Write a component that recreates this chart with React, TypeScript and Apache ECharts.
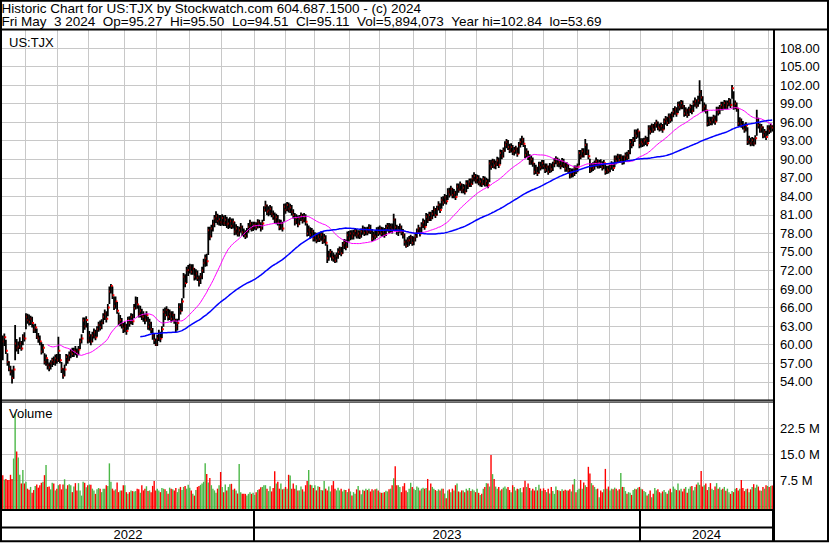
import React, { useEffect, useRef } from "react";
import * as echarts from "echarts";

// ---- Data (daily bars, May 10 2022 .. May 3 2024) ----
const closes = [
  60.5, 61.2, 59.0, 57.2, 56.1, 55.6, 54.6, 56.0, 60.2, 59.5,
  59.7, 60.2, 59.4, 61.3, 61.0, 64.5, 64.0, 63.7, 64.2, 63.5,
  62.4, 62.8, 61.3, 61.0, 60.5, 58.9, 59.5, 57.2, 57.8, 56.7,
  56.3, 57.0, 57.5, 57.2, 57.8, 57.5, 59.0, 57.5, 56.1, 55.0,
  56.0, 58.0, 57.5, 58.3, 58.8, 58.5, 59.0, 58.9, 58.6, 59.2,
  60.5, 61.0, 63.9, 63.0, 64.0, 60.7, 61.5, 60.5, 61.5, 62.0,
  61.2, 62.5, 63.2, 62.8, 63.5, 64.5, 65.0, 64.2, 66.0, 68.6,
  69.5, 68.0, 66.2, 67.0, 65.5, 63.7, 64.0, 63.2, 62.6, 63.0,
  62.2, 64.0, 63.5, 64.5, 63.8, 65.9, 67.0, 66.5, 65.0, 65.5,
  64.6, 64.5, 64.0, 64.8, 62.9, 63.5, 62.5, 61.5, 60.7, 60.0,
  61.0, 61.8, 61.0, 62.5, 65.3, 64.8, 65.6, 64.5, 65.0, 64.2,
  64.8, 64.0, 62.8, 63.5, 66.1, 65.5, 67.0, 71.0, 70.0, 72.0,
  72.1, 72.5, 71.8, 72.3, 71.0, 71.5, 70.8, 70.2, 71.0, 72.0,
  73.2, 74.0, 73.5, 78.5, 77.5, 78.8, 79.5, 80.4, 80.8, 80.0,
  80.3, 79.8, 80.5, 79.7, 80.2, 79.5, 79.6, 80.0, 79.2, 79.8,
  78.3, 78.8, 78.0, 78.5, 79.0, 78.2, 78.0, 77.6, 78.4, 79.1,
  79.6, 78.8, 79.3, 79.4, 79.0, 79.8, 79.4, 78.9, 79.6, 81.8,
  82.5, 81.5, 81.7, 82.0, 81.2, 80.8, 80.2, 80.6, 79.8, 79.1,
  79.6, 78.8, 82.3, 81.8, 82.6, 82.0, 82.2, 81.5, 81.0, 79.9,
  80.5, 79.5, 80.4, 80.9, 80.1, 80.7, 79.9, 78.0, 78.6, 77.8,
  78.3, 77.2, 77.6, 76.9, 77.5, 77.1, 77.8, 76.8, 77.3, 76.5,
  74.0, 74.6, 75.0, 74.2, 74.0, 73.6, 74.4, 75.0, 75.4, 74.8,
  76.1, 76.5, 75.8, 77.7, 77.2, 78.0, 77.5, 78.0, 78.4, 77.7,
  78.0, 77.6, 78.3, 78.7, 78.1, 78.5, 78.2, 78.9, 78.4, 77.2,
  77.7, 77.5, 78.5, 78.1, 78.8, 78.0, 78.4, 77.8, 78.8, 79.2,
  78.5, 79.0, 78.6, 80.2, 79.0, 78.4, 78.5, 79.0, 78.2, 77.8,
  76.6, 76.0, 76.8, 76.9, 77.3, 76.5, 77.0, 77.5, 78.3, 78.8,
  78.0, 79.3, 79.8, 79.1, 80.7, 80.2, 81.0, 80.5, 81.2, 81.8,
  81.0, 82.0, 82.6, 81.8, 83.4, 83.0, 83.8, 83.2, 84.8, 84.3,
  85.2, 84.2, 84.6, 83.9, 85.6, 85.1, 85.9, 85.0, 85.4, 84.8,
  86.1, 85.7, 86.4, 86.0, 86.9, 87.3, 86.6, 87.0, 86.3, 86.4,
  86.0, 86.8, 86.1, 86.5, 85.8, 89.3, 88.8, 89.6, 89.0, 89.3,
  89.8, 89.1, 91.0, 90.5, 91.4, 92.3, 92.8, 92.0, 91.5, 92.0,
  91.2, 91.4, 91.7, 90.9, 92.3, 92.8, 93.2, 92.5, 90.7, 91.2,
  90.4, 89.6, 90.0, 89.3, 88.0, 88.5, 87.8, 89.1, 88.7, 89.4,
  88.9, 88.3, 88.8, 88.0, 88.8, 88.4, 89.1, 89.6, 90.0, 89.3,
  89.5, 88.9, 89.7, 89.1, 88.5, 88.9, 88.2, 87.4, 87.9, 87.6,
  88.5, 88.1, 88.8, 91.0, 90.5, 91.3, 90.8, 92.3, 91.2, 90.5,
  88.3, 88.8, 88.6, 89.3, 89.7, 89.0, 89.4, 89.1, 88.7, 89.4,
  88.0, 88.4, 88.2, 88.8, 89.2, 88.6, 90.1, 89.7, 90.4, 89.9,
  90.3, 89.6, 90.1, 90.6, 90.3, 91.0, 92.8, 92.3, 93.1, 94.2,
  93.8, 94.5, 92.3, 92.8, 92.5, 93.0, 93.2, 92.6, 95.0, 94.5,
  95.3, 94.8, 95.5, 95.9, 95.2, 95.0, 95.4, 94.8, 96.1, 96.5,
  95.9, 96.9, 96.4, 97.2, 97.7, 98.1, 97.4, 98.8, 98.4, 99.1,
  98.6, 97.4, 97.9, 97.2, 98.0, 98.4, 97.8, 99.0, 99.4, 98.7,
  99.5, 100.9, 100.0, 98.2, 98.6, 97.9, 95.8, 96.3, 96.0, 96.4,
  96.7, 96.1, 98.0, 97.6, 98.3, 98.8, 98.4, 99.1, 98.6, 99.0,
  99.4, 98.8, 101.5, 98.5, 99.0, 98.2, 95.8, 96.3, 95.6, 95.3,
  94.8, 95.5, 92.8, 93.3, 92.6, 93.1, 92.6, 93.4, 96.3, 95.5,
  94.8, 95.2, 93.9, 94.4, 93.6, 95.0, 94.6, 95.3, 95.11,
];

// distance from close to high / to low, in tenths of a dollar
const upWick = [
  10, 6, 18, 14, 12, 10, 14, 6, 30, 14, 8, 10, 12, 4, 10, 6, 10, 12, 5, 10,
  9, 6, 13, 9, 10, 15, 6, 14, 6, 10, 8, 5, 4, 9, 6, 10, 23, 10, 11, 12,
  8, 5, 9, 6, 5, 10, 5, 9, 8, 6, 5, 7, 5, 14, 6, 28, 7, 12, 6, 6,
  12, 5, 5, 11, 6, 6, 7, 12, 6, 8, 3, 14, 16, 8, 14, 15, 8, 11, 9, 7,
  12, 5, 11, 6, 12, 7, 8, 12, 14, 8, 12, 9, 10, 6, 16, 7, 12, 12, 11, 10,
  6, 6, 11, 5, 5, 12, 6, 13, 7, 12, 6, 10, 14, 7, 6, 12, 5, 6, 14, 6,
  8, 6, 12, 7, 14, 7, 12, 10, 6, 6, 7, 6, 12, 6, 16, 6, 7, 6, 8, 12,
  7, 12, 6, 12, 8, 12, 8, 6, 12, 6, 16, 7, 12, 6, 7, 11, 8, 9, 5, 6,
  6, 11, 6, 5, 8, 5, 8, 9, 6, 6, 8, 12, 7, 6, 12, 9, 12, 6, 12, 12,
  6, 11, 5, 11, 5, 10, 6, 11, 9, 14, 6, 14, 6, 5, 11, 6, 12, 16, 7, 12,
  6, 14, 6, 12, 6, 10, 5, 14, 6, 12, 22, 6, 5, 10, 9, 10, 5, 6, 5, 10,
  5, 6, 12, 6, 12, 5, 10, 6, 5, 10, 5, 9, 5, 6, 10, 5, 9, 6, 10, 15,
  6, 9, 5, 10, 5, 11, 6, 11, 6, 5, 12, 6, 10, 10, 14, 10, 7, 6, 11, 9,
  14, 10, 6, 7, 5, 11, 5, 6, 5, 6, 10, 5, 6, 11, 6, 10, 5, 10, 6, 6,
  11, 5, 6, 11, 5, 10, 6, 10, 5, 11, 5, 12, 6, 10, 5, 10, 5, 11, 6, 11,
  5, 9, 5, 9, 6, 6, 10, 5, 11, 6, 9, 5, 11, 5, 10, 6, 11, 5, 10, 5,
  6, 12, 6, 10, 5, 6, 5, 11, 10, 6, 11, 6, 5, 10, 5, 6, 6, 10, 16, 6,
  10, 12, 6, 10, 14, 6, 10, 5, 9, 5, 10, 10, 5, 10, 6, 9, 5, 6, 5, 10,
  6, 10, 5, 10, 10, 6, 10, 12, 6, 9, 5, 9, 5, 5, 10, 5, 10, 10, 14, 11,
  18, 6, 9, 5, 6, 10, 5, 9, 10, 5, 14, 5, 8, 5, 5, 9, 5, 9, 5, 9,
  5, 10, 5, 5, 9, 5, 5, 10, 5, 6, 10, 5, 22, 6, 9, 5, 6, 10, 5, 10,
  5, 9, 5, 5, 9, 8, 5, 9, 5, 5, 10, 5, 10, 5, 6, 5, 10, 5, 10, 5,
  9, 14, 5, 10, 5, 5, 10, 5, 6, 10, 8, 19, 12, 20, 6, 10, 22, 6, 9, 5,
  5, 10, 5, 9, 5, 5, 9, 5, 9, 5, 5, 10, 5, 25, 5, 10, 24, 5, 10, 9,
  10, 5, 24, 5, 9, 5, 9, 5, 17, 12, 10, 5, 14, 5, 10, 5, 9, 5, 4,
];

const downWick = [
  30, 14, 5, 6, 4, 6, 9, 15, 27, 6, 12, 9, 4, 14, 5, 20, 6, 6, 10, 7,
  5, 9, 4, 7, 6, 5, 9, 4, 12, 7, 6, 10, 11, 5, 12, 6, 18, 5, 7, 5,
  11, 14, 6, 9, 10, 5, 10, 6, 7, 9, 12, 8, 20, 6, 12, 5, 12, 6, 11, 10,
  5, 12, 11, 5, 10, 12, 10, 6, 14, 20, 12, 6, 6, 12, 5, 5, 10, 6, 7, 10,
  6, 16, 6, 12, 6, 16, 13, 7, 6, 11, 6, 8, 7, 11, 5, 12, 6, 7, 6, 2,
  12, 12, 6, 14, 24, 8, 10, 6, 10, 6, 10, 6, 8, 12, 22, 6, 16, 35, 7, 20,
  10, 10, 5, 10, 6, 10, 5, 8, 12, 14, 16, 14, 8, 40, 6, 14, 12, 14, 11, 6,
  10, 6, 12, 5, 10, 6, 9, 11, 5, 10, 6, 10, 5, 10, 9, 6, 6, 5, 11, 10,
  10, 5, 9, 8, 5, 10, 5, 6, 10, 18, 10, 5, 9, 10, 6, 6, 6, 11, 5, 6,
  10, 5, 24, 6, 10, 6, 9, 6, 6, 6, 10, 5, 10, 9, 5, 9, 6, 5, 10, 6,
  9, 5, 9, 5, 9, 5, 10, 5, 9, 5, 8, 10, 9, 6, 6, 4, 11, 11, 9, 5,
  14, 10, 5, 20, 5, 11, 5, 10, 9, 5, 8, 5, 10, 9, 5, 8, 5, 9, 5, 5,
  9, 5, 12, 5, 10, 5, 9, 5, 12, 9, 5, 9, 6, 18, 5, 6, 9, 9, 5, 6,
  6, 3, 10, 9, 10, 5, 9, 8, 10, 9, 5, 12, 9, 5, 15, 5, 10, 5, 9, 10,
  5, 11, 9, 5, 14, 5, 10, 5, 14, 5, 11, 5, 9, 5, 15, 5, 10, 5, 9, 5,
  14, 5, 9, 5, 10, 9, 5, 9, 5, 8, 5, 10, 5, 9, 5, 30, 5, 10, 5, 9,
  9, 5, 18, 5, 11, 11, 10, 5, 5, 9, 5, 8, 8, 5, 14, 9, 9, 5, 5, 9,
  5, 5, 9, 5, 5, 9, 5, 14, 5, 10, 5, 5, 9, 5, 10, 5, 10, 9, 8, 5,
  8, 5, 10, 5, 5, 9, 5, 5, 9, 5, 12, 5, 9, 20, 5, 10, 5, 16, 5, 5,
  5, 9, 5, 10, 9, 5, 9, 5, 5, 10, 5, 8, 5, 9, 9, 5, 14, 5, 10, 5,
  9, 5, 9, 9, 5, 10, 20, 5, 10, 14, 5, 10, 5, 9, 5, 9, 9, 5, 22, 5,
  10, 5, 9, 8, 5, 5, 8, 5, 13, 9, 5, 12, 5, 11, 9, 9, 5, 13, 5, 10,
  5, 5, 9, 5, 10, 9, 5, 13, 9, 5, 10, 20, 6, 5, 9, 5, 5, 9, 5, 9,
  9, 5, 19, 5, 10, 9, 5, 10, 5, 9, 8, 5, 17, 5, 9, 5, 5, 9, 5, 5,
  5, 10, 5, 9, 5, 9, 5, 10, 25, 5, 5, 9, 5, 9, 5, 12, 5, 10, 6,
];

// daily volume, millions of shares
const volumes = [
  8.9, 7.6, 7.8, 7.5, 7.5, 9.0, 7.8, 13.7, 26.7, 15.7,
  14.0, 9.0, 6.5, 10.4, 6.5, 7.0, 5.0, 4.7, 5.5, 3.8,
  4.6, 5.8, 6.2, 5.3, 6.0, 6.7, 7.0, 8.9, 11.8, 5.5,
  5.6, 4.8, 6.7, 6.5, 4.5, 5.0, 6.0, 6.3, 4.8, 6.2,
  7.7, 5.0, 6.0, 6.3, 6.0, 4.0, 5.6, 6.6, 4.5, 6.6,
  4.5, 3.0, 7.0, 6.7, 5.4, 6.0, 6.2, 6.1, 5.0, 4.5,
  3.5, 4.8, 5.2, 5.0, 4.0, 5.0, 5.0, 6.0, 5.8, 12.3,
  7.0, 5.0, 4.5, 4.8, 6.8, 4.0, 4.5, 4.5, 6.0, 6.0,
  4.0, 3.5, 4.0, 4.5, 4.3, 4.2, 4.3, 5.0, 4.8, 3.8,
  6.0, 4.5, 5.0, 5.7, 4.3, 4.5, 4.0, 5.8, 7.2, 4.5,
  5.0, 4.5, 4.0, 5.2, 5.0, 4.8, 4.3, 3.5, 5.3, 5.0,
  4.8, 4.5, 5.2, 4.0, 5.0, 5.5, 4.6, 5.5, 5.8, 5.0,
  6.1, 5.3, 4.5, 3.5, 3.0, 4.6, 5.5, 5.8, 6.1, 6.5,
  7.0, 12.3, 9.2, 6.8, 8.1, 6.0, 5.0, 4.5, 3.8, 5.0,
  6.0, 9.8, 5.5, 4.0, 6.2, 4.5, 5.5, 6.3, 6.4, 4.7,
  5.0, 4.5, 3.6, 12.1, 4.0, 3.5, 3.5, 3.5, 3.0, 3.5,
  4.0, 3.5, 3.8, 3.2, 4.0, 4.6, 4.8, 5.4, 5.5, 6.0,
  6.0, 5.0, 4.3, 5.7, 4.2, 5.2, 10.0, 6.5, 7.0, 5.0,
  6.5, 4.8, 5.0, 5.5, 5.0, 9.0, 8.8, 5.0, 6.5, 5.0,
  6.0, 4.5, 4.5, 5.6, 4.8, 4.2, 6.0, 7.2, 10.4, 6.1,
  6.0, 5.2, 6.0, 4.5, 5.7, 5.5, 4.6, 4.5, 7.2, 5.0,
  4.5, 5.6, 4.2, 6.0, 7.2, 5.0, 4.5, 5.3, 4.5, 5.0,
  4.2, 4.7, 4.6, 4.0, 5.0, 4.2, 3.0, 4.0, 3.5, 4.8,
  5.8, 4.5, 3.4, 4.7, 4.4, 5.0, 4.6, 5.0, 4.2, 4.8,
  4.5, 4.8, 5.0, 4.5, 4.0, 3.8, 3.8, 4.0, 4.4, 4.2,
  4.8, 5.0, 6.0, 8.0, 11.5, 6.0, 6.0, 5.5, 4.0, 5.7,
  6.6, 4.5, 4.0, 5.0, 6.7, 5.5, 5.0, 4.6, 5.6, 5.3,
  4.5, 5.0, 5.3, 5.0, 5.2, 7.8, 4.5, 6.5, 5.5, 5.0,
  4.6, 4.3, 4.8, 4.5, 5.0, 5.0, 3.6, 2.2, 4.5, 4.8,
  4.0, 5.0, 4.5, 6.0, 6.5, 4.2, 4.0, 4.5, 4.5, 4.0,
  5.0, 4.5, 5.2, 4.3, 4.8, 4.5, 4.0, 5.0, 3.8, 3.2,
  3.5, 5.0, 5.5, 6.6, 6.5, 5.6, 14.7, 9.2, 7.8, 5.6,
  5.0, 5.5, 4.5, 4.8, 5.3, 5.6, 5.0, 5.5, 4.6, 4.0,
  6.0, 5.5, 4.5, 5.0, 4.8, 5.2, 4.0, 5.4, 7.3, 5.5,
  6.5, 5.2, 4.5, 5.0, 4.5, 5.5, 4.5, 6.1, 5.0, 4.4,
  5.1, 4.6, 4.0, 5.0, 3.6, 5.5, 4.3, 3.5, 5.6, 4.6,
  4.5, 4.3, 4.8, 4.4, 4.7, 4.5, 4.5, 4.8, 4.2, 6.2,
  7.8, 4.0, 4.6, 5.0, 7.5, 5.0, 6.8, 6.0, 5.5, 11.3,
  9.4, 6.6, 6.0, 5.5, 4.8, 5.0, 2.5, 4.5, 4.0, 4.8,
  10.7, 5.0, 5.6, 4.5, 5.0, 4.8, 5.3, 5.0, 4.5, 4.8,
  9.5, 5.5, 5.5, 4.3, 3.5, 4.0, 3.8, 3.2, 4.6, 5.0,
  4.8, 5.3, 5.5, 5.0, 4.8, 4.3, 4.0, 3.0, 3.5, 4.5,
  2.5, 3.5, 5.2, 4.5, 4.8, 4.0, 3.7, 4.2, 4.6, 4.0,
  3.5, 4.5, 5.0, 4.0, 5.6, 5.0, 4.6, 6.5, 4.5, 5.0,
  4.2, 5.0, 5.5, 3.8, 5.0, 5.6, 5.8, 4.5, 5.5, 6.2,
  6.8, 6.1, 10.1, 5.6, 6.0, 6.5, 4.6, 5.5, 6.6, 5.0,
  4.6, 5.6, 6.6, 5.0, 5.4, 4.7, 5.0, 5.5, 4.4, 5.0,
  4.0, 3.5, 4.3, 4.0, 5.0, 5.2, 4.5, 5.0, 7.5, 5.2,
  4.3, 4.8, 5.0, 4.0, 4.8, 5.5, 6.3, 5.3, 6.1, 5.6,
  4.5, 4.4, 5.5, 5.0, 6.0, 5.8, 5.5, 5.8, 5.89,
];

const priceTicks = { min: 51, max: 111, step: 3 };
const volumeTicks = { min: 0, max: 30, step: 7.5 };
const maPeriods = [30, 90];
const maColors = ["#ff00ff", "#0000ff"];

const holidays = [
  "2022-05-30", "2022-06-20", "2022-07-04", "2022-09-05", "2022-11-24", "2022-12-26",
  "2023-01-02", "2023-01-16", "2023-02-20", "2023-04-07", "2023-05-29", "2023-06-19",
  "2023-07-04", "2023-09-04", "2023-11-23", "2023-12-25", "2024-01-01", "2024-01-15",
  "2024-02-19", "2024-03-29",
];
const lastDate = "2024-05-03";

const titleLine1 = "Historic Chart for US:TJX by Stockwatch.com 604.687.1500 - (c) 2024";
const titleLine2 =
  "Fri May\u00a0\u00a03 2024\u00a0\u00a0Op=95.27\u00a0\u00a0Hi=95.50\u00a0\u00a0Lo=94.51\u00a0\u00a0Cl=95.11\u00a0\u00a0Vol=5,894,073\u00a0\u00a0Year hi=102.84\u00a0\u00a0lo=53.69";

const FONT = '"Liberation Sans", Arial, Helvetica, sans-serif';

function tradingDays(endISO: string, n: number): string[] {
  const out: string[] = [];
  const d = new Date(endISO + "T12:00:00Z");
  while (out.length < n) {
    const dow = d.getUTCDay();
    const iso = d.toISOString().slice(0, 10);
    if (dow !== 0 && dow !== 6 && holidays.indexOf(iso) < 0) out.push(iso);
    d.setUTCDate(d.getUTCDate() - 1);
  }
  return out.reverse();
}

function sma(arr: number[], n: number): (number | null)[] {
  const out: (number | null)[] = [];
  let s = 0;
  for (let i = 0; i < arr.length; i++) {
    s += arr[i];
    if (i >= n) s -= arr[i - n];
    out.push(i >= n - 1 ? +(s / n).toFixed(3) : null);
  }
  return out;
}

export default function App() {
  const ref = useRef<HTMLDivElement>(null);

  useEffect(() => {
    if (!ref.current) return;
    const chart = echarts.init(ref.current, undefined, { renderer: "svg" });
    const n = closes.length;
    const dates = tradingDays(lastDate, n);
    const monthStarts = new Set<number>();
    const yearStarts = new Set<number>();
    for (let i = 1; i < n; i++) {
      if (dates[i].slice(0, 7) !== dates[i - 1].slice(0, 7)) monthStarts.add(i);
      if (dates[i].slice(0, 4) !== dates[i - 1].slice(0, 4)) yearStarts.add(i);
    }
    const yearSpans: { label: string; first: number; last: number }[] = [];
    for (let i = 0; i < n; i++) {
      const y = dates[i].slice(0, 4);
      const cur = yearSpans[yearSpans.length - 1];
      if (!cur || cur.label !== y) yearSpans.push({ label: y, first: i, last: i });
      else cur.last = i;
    }

    const ohlc = closes.map((c, i) => [
      i,
      c,
      +(c + (upWick[i] ?? 8) / 10).toFixed(2),
      +(c - (downWick[i] ?? 8) / 10).toFixed(2),
    ]);
    const vol = closes.map((c, i) => {
      const prev = i > 0 ? closes[i - 1] : c + 1;
      const dir = c > prev ? 1 : c < prev ? -1 : 0;
      return [i, volumes[i] ?? 5, dir];
    });

    const gridLine = { color: "#c8c8c8", width: 1 };
    const mkX = (k: number) => ({
      type: "category",
      gridIndex: k,
      data: dates,
      boundaryGap: true,
      axisLine: { show: false },
      axisTick: { show: false },
      axisLabel: { show: false },
      splitLine: {
        show: true,
        interval: (idx: number) => (k === 2 ? yearStarts.has(idx) : monthStarts.has(idx)),
        lineStyle: k === 2 ? { color: "#000", width: 2 } : gridLine,
      },
    });

    const labelStyle = { color: "#000", fontFamily: FONT, fontSize: 13, margin: 7 };

    const graphicText = (text: string, x: number, y: number, size: number) => ({
      type: "text",
      x,
      y,
      z: 100,
      style: {
        text,
        fill: "#000",
        font: `${size}px ${FONT}`,
        lineHeight: 12,
        verticalAlign: "middle",
        textVerticalAlign: "middle",
      },
    });
    const bar = (x: number, y: number, w: number, h: number) => ({
      type: "rect",
      z: 100,
      shape: { x, y, width: w, height: h },
      style: { fill: "#000" },
    });

    chart.setOption({
      animation: false,
      backgroundColor: "#ffffff",
      grid: [
        { left: 2, top: 29.5, width: 771, height: 370.8, outerBoundsMode: "none" },
        { left: 2, top: 402, width: 771, height: 104, outerBoundsMode: "none" },
        { left: 2, top: 510, width: 771, height: 31, outerBoundsMode: "none" },
      ],
      xAxis: [mkX(0), mkX(1), mkX(2)],
      yAxis: [
        {
          type: "value",
          gridIndex: 0,
          position: "right",
          min: priceTicks.min,
          max: priceTicks.max,
          interval: priceTicks.step,
          axisLine: { show: false },
          axisTick: { show: false },
          axisLabel: {
            ...labelStyle,
            showMinLabel: false,
            showMaxLabel: false,
            formatter: (v: number) => v.toFixed(2),
          },
          splitLine: { lineStyle: gridLine },
        },
        {
          type: "value",
          gridIndex: 1,
          position: "right",
          min: volumeTicks.min,
          max: volumeTicks.max,
          interval: volumeTicks.step,
          axisLine: { show: false },
          axisTick: { show: false },
          axisLabel: {
            ...labelStyle,
            showMinLabel: false,
            showMaxLabel: false,
            formatter: (v: number) => v.toFixed(1) + " M",
          },
          splitLine: { lineStyle: gridLine },
        },
        { type: "value", gridIndex: 2, min: 0, max: 1, show: false },
      ],
      series: [
        {
          type: "custom",
          name: "HLC",
          xAxisIndex: 0,
          yAxisIndex: 0,
          z: 3,
          clip: true,
          data: ohlc,
          encode: { x: 0, y: [1, 2, 3] },
          renderItem: (params: any, api: any) => {
            const i = api.value(0);
            const pc = api.coord([i, api.value(1)]);
            const ph = api.coord([i, api.value(2)]);
            const pl = api.coord([i, api.value(3)]);
            return {
              type: "group",
              children: [
                {
                  type: "rect",
                  shape: { x: ph[0] - 0.9, y: ph[1], width: 1.8, height: Math.max(1, pl[1] - ph[1]) },
                  style: { fill: "#000" },
                },
                {
                  type: "rect",
                  shape: { x: pc[0] + 0.1, y: pc[1] - 1, width: 1.8, height: 2 },
                  style: { fill: "#ff0000" },
                },
              ],
            };
          },
        },
        ...maPeriods.map((p, k) => ({
          type: "line",
          name: `MA${p}`,
          xAxisIndex: 0,
          yAxisIndex: 0,
          z: 5 + k,
          data: sma(closes, p),
          showSymbol: false,
          symbol: "none",
          lineStyle: { color: maColors[k], width: k === 0 ? 1 : 1.5 },
        })),
        {
          type: "custom",
          name: "Volume",
          xAxisIndex: 1,
          yAxisIndex: 1,
          z: 3,
          clip: false,
          data: vol,
          encode: { x: 0, y: 1 },
          renderItem: (params: any, api: any) => {
            const i = api.value(0);
            const top = api.coord([i, api.value(1)]);
            const bottom = params.coordSys.y + params.coordSys.height + 3;
            const dir = api.value(2);
            const color = dir > 0 ? "#4cb848" : dir < 0 ? "#ff0000" : "#b4b4b4";
            return {
              type: "rect",
              shape: { x: top[0] - 0.7, y: top[1], width: 1.4, height: bottom - top[1] },
              style: { fill: color },
            };
          },
        },
        {
          type: "custom",
          name: "Years",
          xAxisIndex: 2,
          yAxisIndex: 2,
          z: 6,
          clip: false,
          data: yearSpans.map((s) => [s.first, s.last]),
          encode: { x: [0, 1] },
          renderItem: (params: any, api: any) => {
            const bw = api.size([1, 0])[0];
            const x0 = api.coord([api.value(0), 0])[0] - bw / 2;
            const x1 = api.coord([api.value(1), 0])[0] + bw / 2;
            return {
              type: "text",
              x: (x0 + x1) / 2,
              y: 534.5,
              style: {
                text: yearSpans[params.dataIndex].label,
                fill: "#000",
                font: `13px ${FONT}`,
                align: "center",
                textAlign: "center",
                verticalAlign: "middle",
                textVerticalAlign: "middle",
              },
            };
          },
        },
      ],
      graphic: [
        graphicText(titleLine1, 1.5, 8.3, 13.5),
        graphicText(titleLine2, 1.5, 21.8, 13.5),
        graphicText("US:TJX", 9, 42.5, 13),
        graphicText("Volume", 9, 413, 13),
        {
          type: "rect",
          z: 100,
          shape: { x: 1, y: 0.75, width: 827, height: 540.5 },
          style: { fill: "none", stroke: "#000", lineWidth: 2 },
        },
        bar(0, 28.5, 829, 2),
        bar(773, 30, 2, 512),
        bar(0, 399.5, 773, 1.2),
        bar(0, 401.6, 773, 1),
        bar(0, 509, 773, 2),
        bar(0, 526.5, 773, 2),
      ],
    });
    return () => chart.dispose();
  }, []);

  return (
    <div
      ref={ref}
      style={{ position: "fixed", left: 0, top: 0, width: 830, height: 543, background: "#fff" }}
    />
  );
}
